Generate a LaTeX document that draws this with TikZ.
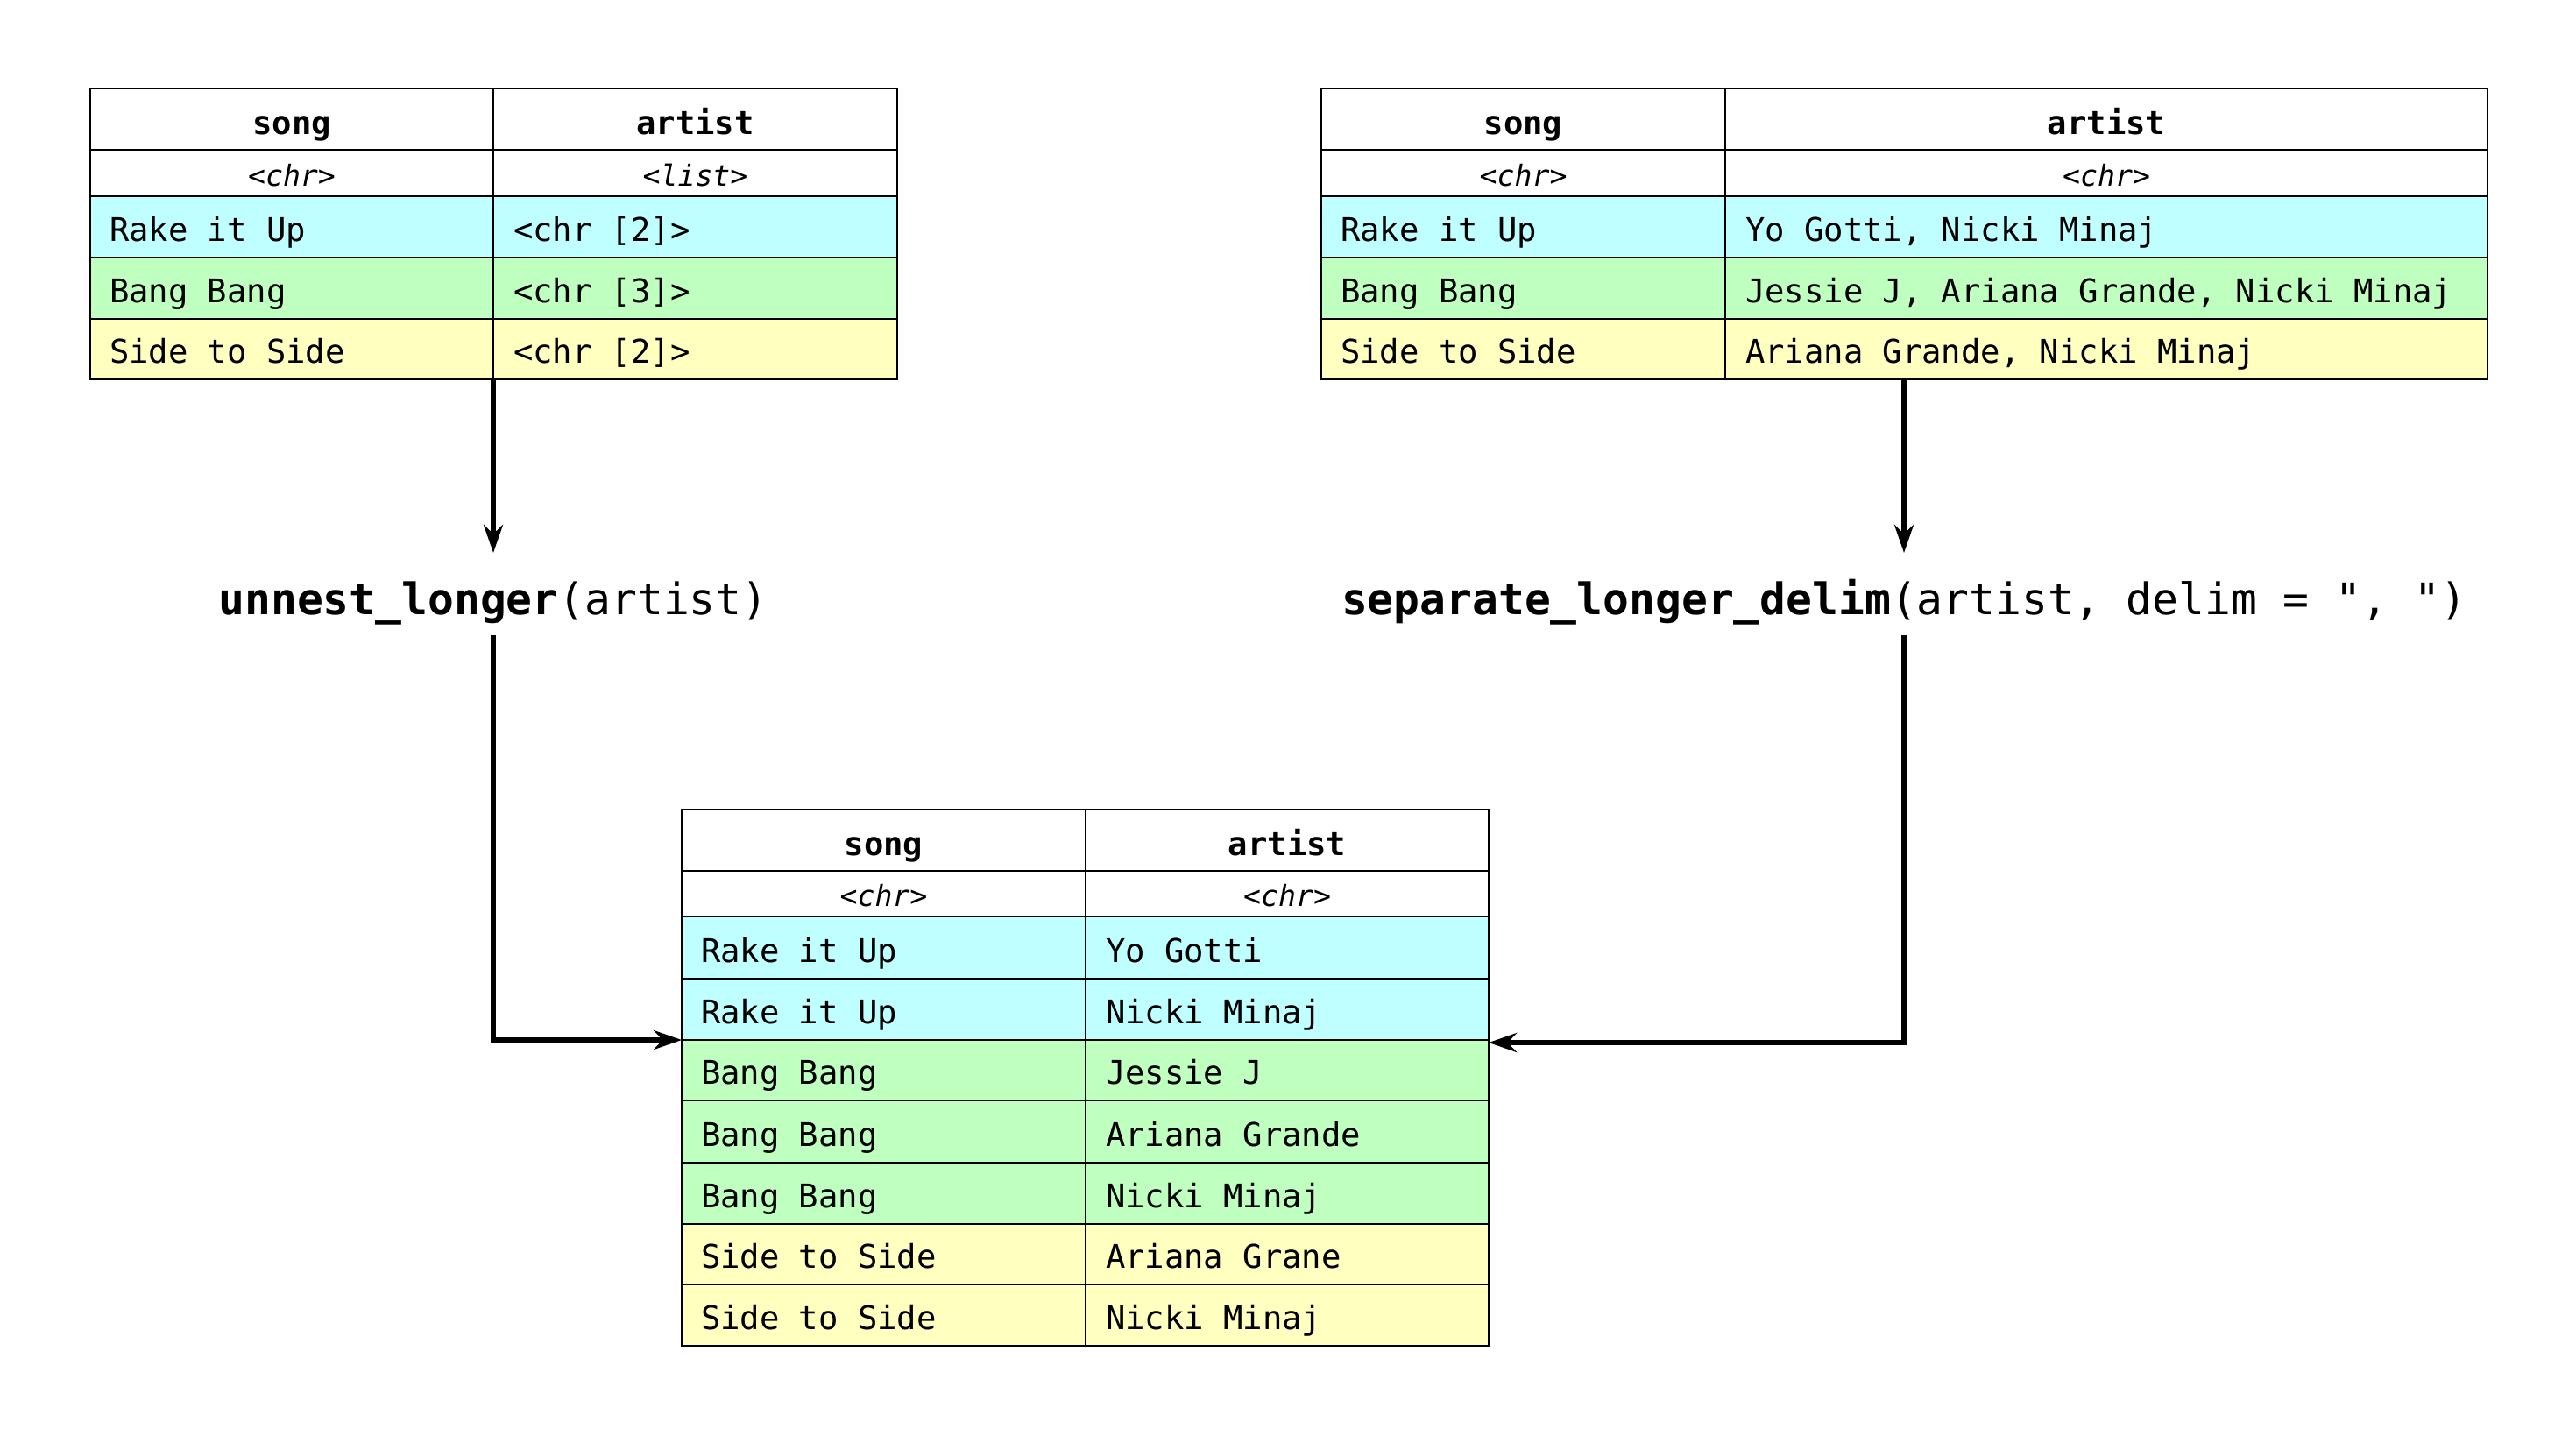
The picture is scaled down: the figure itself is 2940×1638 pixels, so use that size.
\documentclass[tikz,border=0pt]{standalone}
\usepackage{fontspec}
\setmonofont{DejaVu Sans Mono}[ItalicFont={DejaVu Sans Mono Oblique},BoldFont={DejaVu Sans Mono Bold},BoldItalicFont={DejaVu Sans Mono Bold Oblique}]
\usetikzlibrary{arrows.meta}
\definecolor{rowcyan}{RGB}{191,255,255}
\definecolor{rowgreen}{RGB}{191,255,191}
\definecolor{rowyellow}{RGB}{255,255,191}
\tikzset{every picture/.style={line width=0.5pt}}

\begin{document}
\begin{tikzpicture}[x=0.25pt,y=0.25pt,yscale=-1,xscale=1,
  hdr/.style={anchor=base,inner sep=0pt,font=\ttfamily\bfseries\fontsize{9.3}{11}\selectfont},
  typ/.style={anchor=base,inner sep=0pt,font=\ttfamily\itshape\fontsize{8.3}{10}\selectfont},
  cell/.style={anchor=base west,inner sep=0pt,font=\ttfamily\fontsize{9.3}{11}\selectfont},
  fn/.style={anchor=base,inner sep=0pt,text height=9.5pt,text depth=2.5pt,font=\ttfamily\fontsize{12.4}{15}\selectfont},
  arr/.style={line width=1.3pt,-{Stealth[length=8pt,width=5.5pt]}}]
\useasboundingbox (0,0) rectangle (2940,1638);

%Table: top left
\fill[rowcyan] (103,224) rectangle (1024,294);
\fill[rowgreen] (103,294) rectangle (1024,364);
\fill[rowyellow] (103,364) rectangle (1024,433);
\draw (103,101) rectangle (1024,433);
\draw (103,171) -- (1024,171) (103,224) -- (1024,224) (103,294) -- (1024,294) (103,364) -- (1024,364);
\draw (563,101) -- (563,433);
% Text Node
\draw (333,153) node[hdr] (tl-song) {song};
\draw (793.5,153) node[hdr] (tl-artist) {artist};
\draw (333,212) node[typ] (tl-song-type) {<chr>};
\draw (793.5,212) node[typ] (tl-artist-type) {<list>};
\draw (124,275) node[cell] (tl-s1) {Rake it Up};
\draw (585,275) node[cell] (tl-a1) {<chr [2]>};
\draw (124,345) node[cell] (tl-s2) {Bang Bang};
\draw (585,345) node[cell] (tl-a2) {<chr [3]>};
\draw (124,414) node[cell] (tl-s3) {Side to Side};
\draw (585,414) node[cell] (tl-a3) {<chr [2]>};

%Table: top right
\fill[rowcyan] (1508,224) rectangle (2839,294);
\fill[rowgreen] (1508,294) rectangle (2839,364);
\fill[rowyellow] (1508,364) rectangle (2839,433);
\draw (1508,101) rectangle (2839,433);
\draw (1508,171) -- (2839,171) (1508,224) -- (2839,224) (1508,294) -- (2839,294) (1508,364) -- (2839,364);
\draw (1969,101) -- (1969,433);
% Text Node
\draw (1738.5,153) node[hdr] (tr-song) {song};
\draw (2404,153) node[hdr] (tr-artist) {artist};
\draw (1738.5,212) node[typ] (tr-song-type) {<chr>};
\draw (2404,212) node[typ] (tr-artist-type) {<chr>};
\draw (1529,275) node[cell] (tr-s1) {Rake it Up};
\draw (1991,275) node[cell] (tr-a1) {Yo Gotti, Nicki Minaj};
\draw (1529,345) node[cell] (tr-s2) {Bang Bang};
\draw (1991,345) node[cell] (tr-a2) {Jessie J, Ariana Grande, Nicki Minaj};
\draw (1529,414) node[cell] (tr-s3) {Side to Side};
\draw (1991,414) node[cell] (tr-a3) {Ariana Grande, Nicki Minaj};

%Table: bottom
\fill[rowcyan] (778,1046) rectangle (1699,1187);
\fill[rowgreen] (778,1187) rectangle (1699,1397);
\fill[rowyellow] (778,1397) rectangle (1699,1536);
\draw (778,924) rectangle (1699,1536);
\draw (778,994) -- (1699,994) (778,1046) -- (1699,1046) (778,1117) -- (1699,1117) (778,1187) -- (1699,1187)
      (778,1256) -- (1699,1256) (778,1327) -- (1699,1327) (778,1397) -- (1699,1397) (778,1466) -- (1699,1466);
\draw (1239,924) -- (1239,1536);
% Text Node
\draw (1008.5,976) node[hdr] (b-song) {song};
\draw (1469,976) node[hdr] (b-artist) {artist};
\draw (1008.5,1034) node[typ] (b-song-type) {<chr>};
\draw (1469,1034) node[typ] (b-artist-type) {<chr>};
\draw (799,1098) node[cell] (b-s1) {Rake it Up};
\draw (1261,1098) node[cell] (b-a1) {Yo Gotti};
\draw (799,1168) node[cell] (b-s2) {Rake it Up};
\draw (1261,1168) node[cell] (b-a2) {Nicki Minaj};
\draw (799,1237) node[cell] (b-s3) {Bang Bang};
\draw (1261,1237) node[cell] (b-a3) {Jessie J};
\draw (799,1308) node[cell] (b-s4) {Bang Bang};
\draw (1261,1308) node[cell] (b-a4) {Ariana Grande};
\draw (799,1378) node[cell] (b-s5) {Bang Bang};
\draw (1261,1378) node[cell] (b-a5) {Nicki Minaj};
\draw (799,1447) node[cell] (b-s6) {Side to Side};
\draw (1261,1447) node[cell] (b-a6) {Ariana Grane};
\draw (799,1517) node[cell] (b-s7) {Side to Side};
\draw (1261,1517) node[cell] (b-a7) {Nicki Minaj};

%Functions
\draw (563,701) node[fn] (unnest) {\textbf{unnest\_longer}(artist)};
\draw (2173,701) node[fn] (separate) {\textbf{separate\_longer\_delim}(artist, delim = ", ")};

%Arrows
\coordinate (tl-out) at (563,433);
\coordinate (tr-out) at (2173,433);
\coordinate (b-left) at (778,1187);
\coordinate (b-right) at (1699,1190);
\draw[arr,shorten >=7.75pt] (tl-out) -- (unnest);
\draw[arr,shorten <=3.25pt] (unnest) -- (unnest |- b-left) -- (b-left);
\draw[arr,shorten >=7.75pt] (tr-out) -- (separate);
\draw[arr,shorten <=3.25pt] (separate) -- (separate |- b-right) -- (b-right);

\end{tikzpicture}
\end{document}
